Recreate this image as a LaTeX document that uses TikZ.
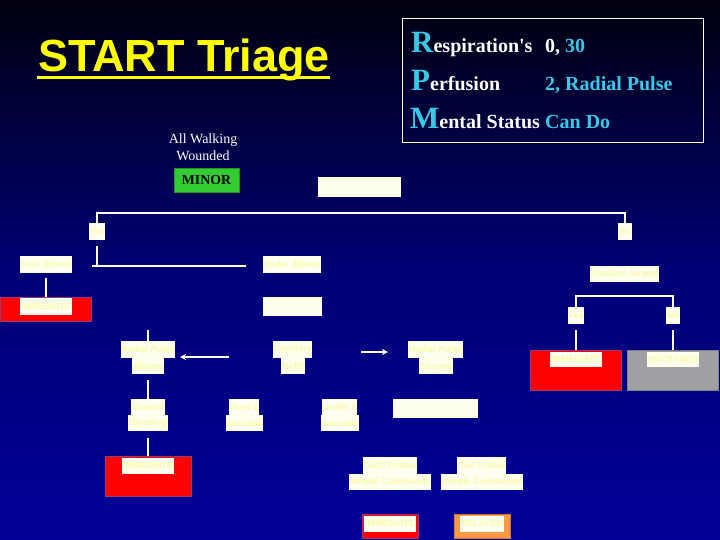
\documentclass[tikz,border=0pt]{standalone}
\usepackage{fontspec}
\setmainfont{Liberation Serif}
\newfontfamily\arial{Liberation Sans}
\newfontfamily\serifplain{Liberation Serif}[Ligatures=TeXOff]
\newfontfamily\arialplain{Liberation Sans}[Ligatures=TeXOff]
\usetikzlibrary{arrows.meta}
\definecolor{bgtop}{RGB}{0,0,14}
\definecolor{bgmid}{RGB}{0,0,118}
\definecolor{bgbot}{RGB}{0,0,152}
\definecolor{boxw}{RGB}{255,255,240}
\definecolor{boxt}{RGB}{250,250,172}
\definecolor{rpmcyan}{RGB}{56,200,232}
\definecolor{titley}{RGB}{255,255,0}
\definecolor{minorg}{RGB}{51,204,51}
\definecolor{redb}{RGB}{255,0,0}
\definecolor{redbord}{RGB}{150,60,110}
\definecolor{grayb}{RGB}{160,160,164}
\definecolor{orangeb}{RGB}{255,153,68}
\newcommand\bigltr[1]{{\color{rpmcyan}\fontsize{31}{31}\selectfont #1}}
\tikzset{
  wbox/.style={fill=boxw, text=boxt, font=\arial\bfseries\fontsize{9}{10}\selectfont,
    inner xsep=0.6pt, inner ysep=0pt, minimum height=17pt, anchor=center},
  blank/.style={fill=boxw, inner sep=0pt},
  catbox/.style={draw=redbord, line width=0.8pt, inner sep=0pt, minimum width=91pt, minimum height=40pt},
  conn/.style={draw=white, line width=1.2pt},
  rpmtext/.style={anchor=base west, inner sep=0pt, text=white, font=\bfseries\fontsize{20}{20}\selectfont},
  arr/.style={conn, -{Stealth[length=6pt,width=6pt]}}
}
\begin{document}
\begin{tikzpicture}[x=1pt,y=-1pt]
\useasboundingbox (0,0) rectangle (720,540);
\shade[top color=bgtop, bottom color=bgbot, middle color=bgmid] (0,0) rectangle (720,540);

% title
\node[font=\arial\bfseries\fontsize{45}{45}\selectfont, text=titley, inner sep=0pt, anchor=base west] (title) at (38,72) {START Triage};
\draw[titley, line width=3pt] ([yshift=-5.5pt,xshift=-1pt]title.base west) -- ([yshift=-5.5pt]title.base east);

% RPM box
\node[draw=white, line width=0.8pt, minimum width=301pt, minimum height=124pt, inner sep=0pt] (rpm) at (552.5,80) {};
\node[rpmtext] (r1) at (411,53) {\bigltr{R}espiration{\serifplain\bfseries '}s};
\node[rpmtext] (r2) at (411,91) {\bigltr{P}erfusion};
\node[rpmtext] (r3) at (410,129) {\bigltr{M}ental Status};
\node[rpmtext] (v1) at (545,53) {0, \textcolor{rpmcyan}{30}};
\node[rpmtext, text=rpmcyan] (v2) at (545,91) {2, Radial Pulse};
\node[rpmtext, text=rpmcyan] (v3) at (545,129) {Can Do};

% walking wounded
\node[align=center, text=white, font=\fontsize{14}{17}\selectfont, inner sep=0pt] (walk) at (203,147) {All Walking\\Wounded};
\node[fill=minorg, draw=minorg!70!black, minimum width=65pt, minimum height=24pt, inner sep=0pt, font=\bfseries\fontsize{13.8}{15}\selectfont] (minor) at (206.5,180) {MINOR};

% boxes
\node[blank, minimum width=83pt, minimum height=20pt] (resp) at (359.5,187) {};
\node[wbox] (yesL) at (97,231.5) {Yes};
\node[wbox] (noR) at (625,231.5) {No};
\node[wbox] (over30) at (46,264.5) {Over 30/min};
\node[wbox] (under30) at (292,264.5) {Under 30/min};
\node[catbox, fill=redb, minimum height=24pt] (imm1) at (46,309) {};
\node[wbox, anchor=north] (imm1t) at ([yshift=-1pt]imm1.north) {IMMEDIATE};
\node[blank, minimum width=59pt, minimum height=19pt] (perf) at (292.5,306.5) {};
\node[wbox, minimum height=16pt] (posair) at (624.5,274) {Position Airway};
\node[wbox] (yesP) at (576,315.5) {Yes};
\node[wbox] (noP) at (673,315.5) {No};
\node[catbox, fill=redb] (imm2) at (576,370) {};
\node[wbox, anchor=north, minimum height=15pt] (imm2t) at ([yshift=-2pt]imm2.north) {IMMEDIATE};
\node[catbox, fill=grayb, draw=grayb!80!black] (dec) at (673,370) {};
\node[wbox, anchor=north, minimum height=15pt] (dect) at ([yshift=-2pt]dec.north) {DECEASED};

\node[wbox] (rpa1) at (148,349.5) {Radial Pulse};
\node[wbox, minimum height=16pt] (rpa2) at (148,366) {Absent};
\node[wbox] (cap1) at (292.5,349.5) {Capillary};
\node[wbox, minimum height=16pt] (cap2) at (293,366) {Refill};
\node[wbox] (rpp1) at (435.5,349.5) {Radial Pulse};
\node[wbox, minimum height=16pt] (rpp2) at (436,366) {Present};

\node[wbox, minimum height=16pt] (ctrl1) at (148,407) {Control};
\node[wbox, minimum height=16pt] (ctrl2) at (148,423) {Bleeding};
\node[wbox, minimum height=16pt] (ov21) at (244,407) {Over 2};
\node[wbox, minimum height=16pt] (ov22) at (244.5,423) {seconds};
\node[wbox, minimum height=16pt] (un21) at (339.5,407) {Under 2};
\node[wbox, minimum height=16pt] (un22) at (340,423) {seconds};
\node[blank, minimum width=85pt, minimum height=19pt] (mental) at (435.5,408.5) {};

\node[catbox, fill=redb, minimum width=86pt] (imm3) at (148,476) {};
\node[wbox, anchor=north, minimum height=16pt] (imm3t) at ([yshift=-2pt]imm3.north) {IMMEDIATE};
\node[wbox] (cant1) at (390,465.5) {Can{\arialplain\bfseries '}t Follow};
\node[wbox, minimum height=16pt] (cant2) at (390,482) {Simple Commands};
\node[wbox] (can1) at (481.5,465.5) {Can Follow};
\node[wbox, minimum height=16pt] (can2) at (482,482) {Simple Commands};
\node[catbox, fill=redb, minimum width=56pt, minimum height=24pt] (imm4) at (390,526) {};
\node[wbox, anchor=north, minimum height=16pt] (imm4t) at ([yshift=-2pt]imm4.north) {IMMEDIATE};
\node[catbox, fill=orangeb, draw=orangeb!80!black, minimum width=56pt, minimum height=24pt] (del) at (482,526) {};
\node[wbox, anchor=north, minimum height=16pt] (delt) at ([yshift=-2pt]del.north) {DELAYED};

% connectors
\coordinate (tr) at (625,213);
\draw[conn] (yesL.north) |- (tr) -- (noR.north);
\coordinate (j1) at (97,266);
\coordinate (hl) at (92,266);
\coordinate (hr) at (246,266);
\draw[conn] ([yshift=-6pt]yesL.south) -- (j1);
\draw[conn] (hl) -- (hr);
\draw[conn] ([yshift=-5pt]over30.south) -- (imm1.north);
\coordinate (posbar) at (624.5,296);
\draw[conn] (yesP.north) |- (posbar) -| (noP.north);
\draw[conn] ([yshift=-6pt]yesP.south) -- (imm2.north);
\draw[conn] ([yshift=-6pt]noP.south) -- (dec.north);
\coordinate (rpatop) at (148,330);
\draw[conn] (rpatop) -- (rpa1.north);
\draw[conn] ([yshift=-6pt]rpa2.south) -- (ctrl1.north);
\draw[conn] ([yshift=-7pt]ctrl2.south) -- (imm3.north);
\coordinate (al1) at (229,357);
\coordinate (al2) at (180,357);
\draw[arr] (al1) -- (al2);
\coordinate (ar1) at (361,352);
\coordinate (ar2) at (388,352);
\draw[arr] (ar1) -- (ar2);
\end{tikzpicture}
\end{document}
